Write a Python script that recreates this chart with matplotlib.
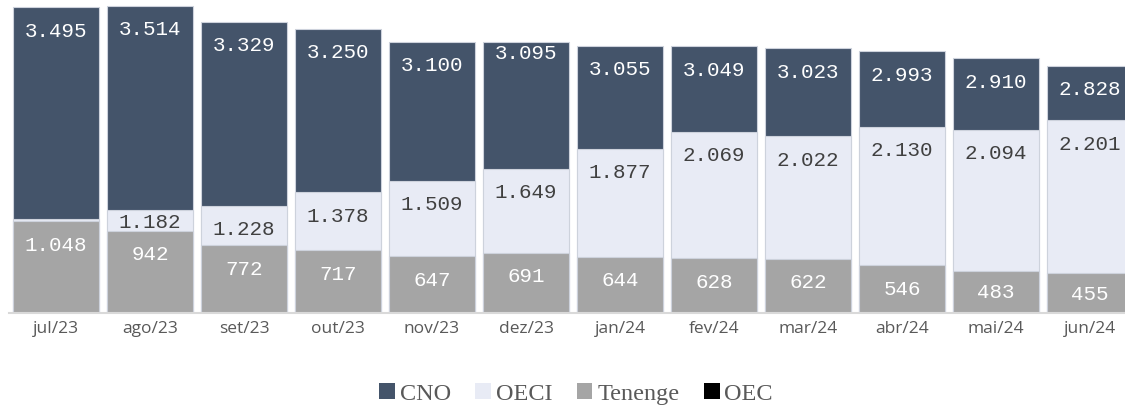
import matplotlib
matplotlib.use("Agg")
import matplotlib.pyplot as plt
from matplotlib.patches import Patch
import numpy as np

months = ["jul/23", "ago/23", "set/23", "out/23", "nov/23", "dez/23",
          "jan/24", "fev/24", "mar/24", "abr/24", "mai/24", "jun/24"]
cno = [3495, 3514, 3329, 3250, 3100, 3095, 3055, 3049, 3023, 2993, 2910, 2828]
oeci = [1070, 1182, 1228, 1378, 1509, 1649, 1877, 2069, 2022, 2130, 2094, 2201]
oeci_labels = [None, "1.182", "1.228", "1.378", "1.509", "1.649", "1.877",
               "2.069", "2.022", "2.130", "2.094", "2.201"]
tenenge = [1048, 942, 772, 717, 647, 691, 644, 628, 622, 546, 483, 455]
oec = [0] * 12

def fmt(v):
    return f"{v:,}".replace(",", ".")

C_CNO = "#44546A"
C_OECI = "#E8EBF5"
C_TEN = "#A5A5A5"
C_OEC = "#000000"
EDGE = "#cdd2dc"

fig = plt.figure(figsize=(11.25, 4.09), dpi=100)
W, H = 1125, 409
base_px = 313
ax = fig.add_axes([9 / W, (H - base_px) / H, 1128 / W, base_px / H])
scale = 0.0875  # px per unit
ax.set_ylim(0, base_px / scale)
ax.set_xlim(-0.5, 11.5)

x = np.arange(len(months))
bw = 0.915
ax.bar(x, cno, width=bw, color=C_CNO, edgecolor=EDGE, linewidth=0.8, zorder=2)
ax.bar(x, oeci, width=bw, color=C_OECI, edgecolor=EDGE, linewidth=0.8, zorder=3)
ax.bar(x, tenenge, width=bw, color=C_TEN, edgecolor=EDGE, linewidth=0.8, zorder=4)
ax.bar(x, oec, width=bw, color=C_OEC, zorder=5)

mono = "Liberation Mono"
fs = 15
default_off = 24  # px below top
special = {("cno", 5): 11, ("oeci", 1): 13}
px2pt = 72 / 100

for i in range(len(months)):
    off = special.get(("cno", i), default_off)
    ax.annotate(fmt(cno[i]), (x[i], cno[i]), xytext=(0, -off * px2pt),
                textcoords="offset points", ha="center", va="center",
                fontsize=fs, family=mono, color="white", zorder=10)
    if oeci_labels[i]:
        off = special.get(("oeci", i), default_off)
        ax.annotate(oeci_labels[i], (x[i], oeci[i]), xytext=(0, -off * px2pt),
                    textcoords="offset points", ha="center", va="center",
                    fontsize=fs, family=mono, color="#404040", zorder=10)
    top_px = tenenge[i] * scale
    off = min(default_off, top_px / 2 + 1)
    ax.annotate(fmt(tenenge[i]), (x[i], tenenge[i]), xytext=(0, -off * px2pt),
                textcoords="offset points", ha="center", va="center",
                fontsize=fs, family=mono, color="white", zorder=10)

for s in ["top", "right", "left"]:
    ax.spines[s].set_visible(False)
ax.spines["bottom"].set_color("#d9d9d9")
ax.spines["bottom"].set_linewidth(1.5)
ax.spines["bottom"].set_zorder(6)
ax.set_yticks([])
ax.set_xticks(x)
ax.set_xticklabels(months, family="Open Sans", fontsize=12.5, color="#595959")
ax.tick_params(axis="x", length=0, pad=6)

handles = [Patch(facecolor=C_CNO, label="CNO"),
           Patch(facecolor=C_OECI, label="OECI"),
           Patch(facecolor=C_TEN, label="Tenenge"),
           Patch(facecolor=C_OEC, label="OEC")]
fig.legend(handles=handles, loc="center", bbox_to_anchor=(576 / W, 1 - 394 / H),
           ncol=4, frameon=False, handlelength=0.65, handleheight=0.65,
           handletextpad=0.2, columnspacing=1.0,
           prop={"family": "Liberation Serif", "size": 17.5}, labelcolor="#595959")

fig.savefig("out.png", dpi=100)
